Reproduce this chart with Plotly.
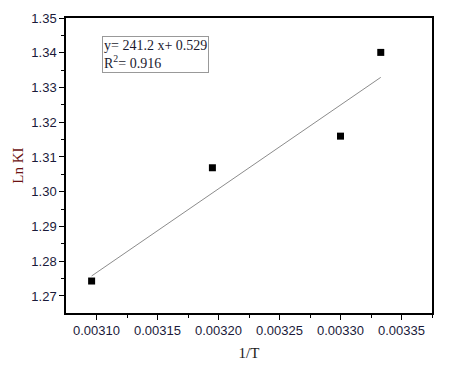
import plotly.graph_objects as go

inv_T = [0.003096, 0.003195, 0.003300, 0.003333]
ln_KI = [1.2743, 1.3069, 1.3160, 1.3401]
slope = 241.2
intercept = 0.529
eq_text = "y= 241.2 x+ 0.529<br>R<sup>2</sup>= 0.916"
x_ticks = [0.00310, 0.00315, 0.00320, 0.00325, 0.00330, 0.00335]
y_ticks = [1.27, 1.28, 1.29, 1.30, 1.31, 1.32, 1.33, 1.34, 1.35]

fit_x = [min(inv_T), max(inv_T)]
fit_y = [slope * v + intercept for v in fit_x]

fig = go.Figure()
fig.add_trace(go.Scatter(x=fit_x, y=fit_y, mode="lines",
                         line=dict(color="#8c8c8c", width=1), showlegend=False))
fig.add_trace(go.Scatter(x=inv_T, y=ln_KI, mode="markers",
                         marker=dict(symbol="square", size=7, color="black"),
                         showlegend=False))

fig.add_annotation(xref="paper", yref="paper", x=0.098, y=0.94, xanchor="left", yanchor="top",
                   text=eq_text, showarrow=False, align="left",
                   font=dict(family="Liberation Serif", size=14, color="#1a1a2e"),
                   bordercolor="#999999", borderwidth=1, borderpad=1, bgcolor="white")

axis_common = dict(showline=True, linecolor="black", linewidth=1.5, mirror=True,
                   showgrid=False, zeroline=False, ticks="outside", ticklen=5,
                   tickcolor="black", tickwidth=1, automargin=False,
                   tickfont=dict(family="Liberation Sans", size=13, color="#1a1a3a"),
                   minor=dict(ticks="outside", ticklen=3, tickcolor="black", tickwidth=1))

fig.update_xaxes(**axis_common, range=[0.003075, 0.003375], tickvals=x_ticks,
                 ticktext=[f"{v:.5f}" for v in x_ticks],
                 title=dict(text="1/T", font=dict(family="Liberation Serif", size=15, color="#1a1a1a"), standoff=10))
fig.update_xaxes(minor=dict(tickvals=[0.003125, 0.003175, 0.003225, 0.003275, 0.003325, 0.003375]))
fig.update_yaxes(**axis_common, range=[1.2651, 1.35], tickvals=y_ticks,
                 ticktext=[f"{v:.2f}" for v in y_ticks],
                 title=dict(text="Ln KI", font=dict(family="Liberation Serif", size=15, color="#6b1010"), standoff=4))
fig.update_yaxes(minor=dict(tickvals=[1.275, 1.285, 1.295, 1.305, 1.315, 1.325, 1.335, 1.345]))

fig.update_layout(width=449, height=368, plot_bgcolor="white", paper_bgcolor="white",
                  margin=dict(l=66, r=17, t=18, b=55))
fig.write_html("out.html", config={"displayModeBar": False},
               post_script="document.body.style.margin='0';")
